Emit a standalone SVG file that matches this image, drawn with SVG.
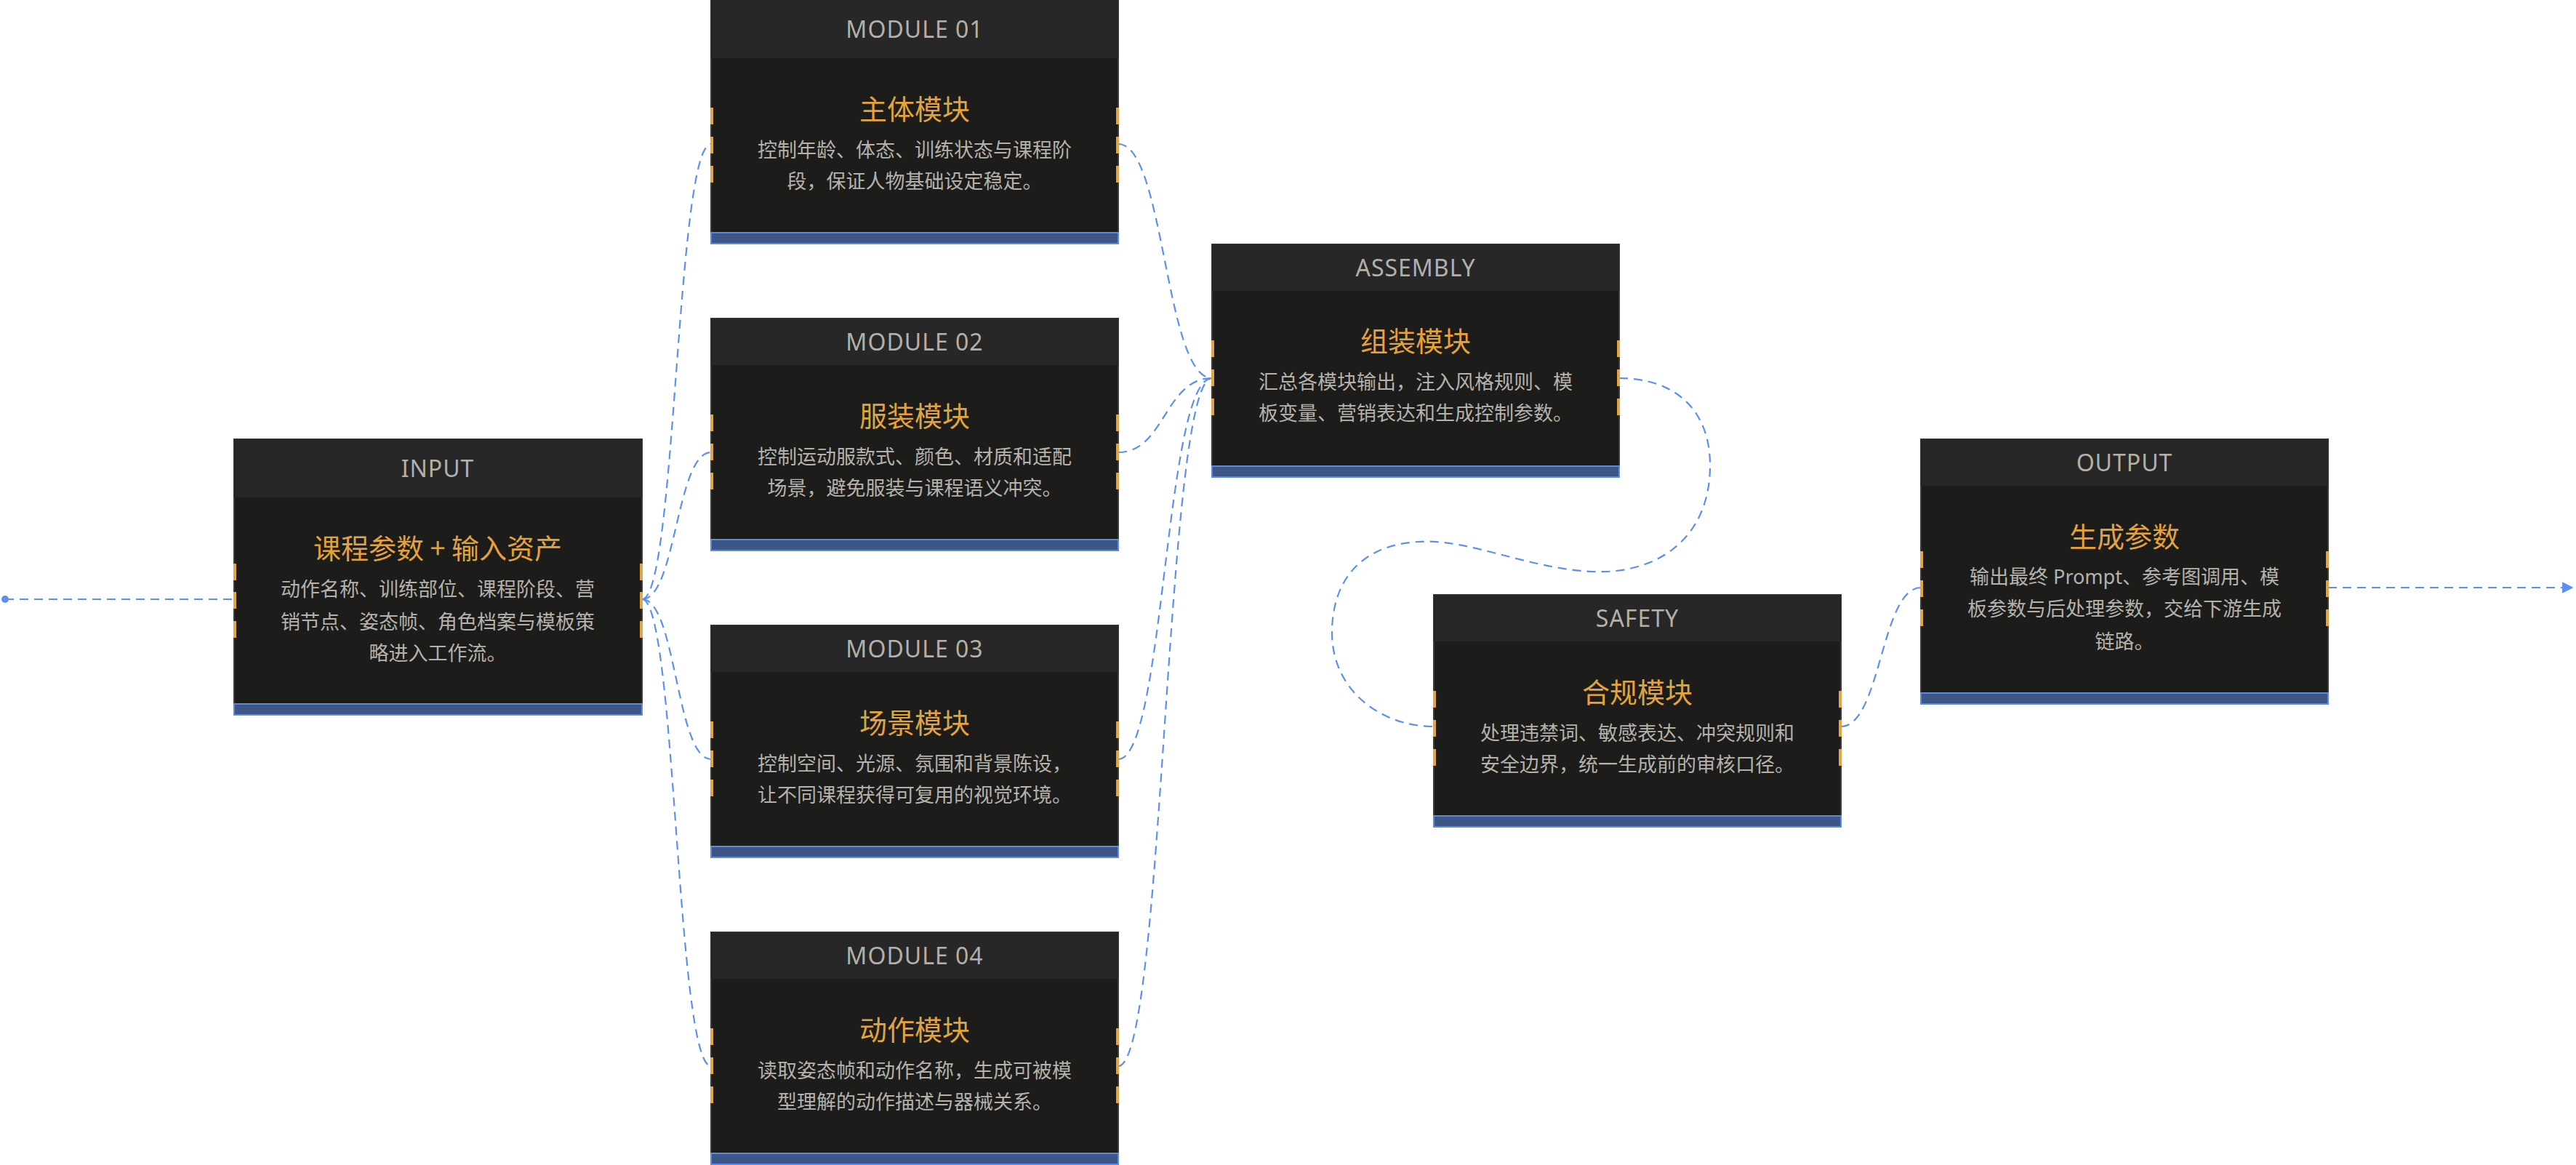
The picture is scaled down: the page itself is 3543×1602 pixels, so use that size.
<svg xmlns="http://www.w3.org/2000/svg" width="3543" height="1602" viewBox="0 0 3543 1602">
<style>
.body{fill:#1c1c1b;stroke:#3a3a3a;stroke-width:2}
.head{fill:#272727}
.band{fill:#3e5685;stroke:#5b8be0;stroke-width:2}
.tick{fill:#e2a445}
.ht{font-family:"Noto Sans","Noto Sans CJK SC",sans-serif;font-size:32px;fill:#b3b0a9;text-anchor:middle;letter-spacing:1px}
.tt{font-family:"Noto Sans CJK SC",sans-serif;font-size:38px;fill:#e3a33c;text-anchor:middle}
.dt{font-family:"Noto Sans","Noto Sans CJK SC",sans-serif;font-size:27px;fill:#b5b2ab;text-anchor:middle}
.cn{fill:none;stroke:#5b8ff0;stroke-width:2.2;stroke-dasharray:12 8}
</style>
<defs>
<marker id="arr" viewBox="0 0 10 10" refX="9" refY="5" markerWidth="7" markerHeight="7" orient="auto"><path d="M0,0 L10,5 L0,10 z" fill="#5b8ff0"/></marker>
</defs>
<rect width="3543" height="1602" fill="#ffffff"/>
<g id="connectors">
<circle cx="7" cy="824" r="5" fill="#5b8ff0"/>
<path class="cn" d="M7,824 L322,824"/>
<path class="cn" d="M883,824 C930,824 930,198 978,198"/>
<path class="cn" d="M883,824 C930,824 930,622 978,622"/>
<path class="cn" d="M883,824 C930,824 930,1044 978,1044"/>
<path class="cn" d="M883,824 C930,824 930,1466 978,1466"/>
<path class="cn" d="M1538,198 C1602,198 1602,520 1667,520"/>
<path class="cn" d="M1538,622 C1602,622 1602,520 1667,520"/>
<path class="cn" d="M1538,1044 C1602,1044 1602,520 1667,520"/>
<path class="cn" d="M1538,1466 C1602,1466 1602,520 1667,520"/>
<path class="cn" d="M2227,520 C2300,520 2352,560 2352,640 C2352,740 2280,790 2190,786 C2100,782 2020,740 1950,745 C1870,750 1832,800 1832,870 C1832,950 1900,999 1972,999"/>
<path class="cn" d="M2532,999 C2587,999 2587,808 2642,808"/>
<path class="cn" d="M3202,808 L3538,808" stroke-width="2.6" marker-end="url(#arr)"/>
</g>
<g id="input">
<rect class="body" x="322" y="604" width="561" height="379"/>
<rect class="head" x="322" y="604" width="561" height="80"/>
<rect class="band" x="322" y="968" width="561" height="15"/>
<rect class="tick" x="321" y="775" width="4" height="23"/><rect class="tick" x="321" y="814" width="4" height="23"/><rect class="tick" x="321" y="854" width="4" height="23"/>
<rect class="tick" x="880" y="775" width="4" height="23"/><rect class="tick" x="880" y="814" width="4" height="23"/><rect class="tick" x="880" y="854" width="4" height="23"/>
<text class="ht" x="602" y="656">INPUT</text>
<text class="tt" x="602" y="768">课程参数 + 输入资产</text>
<text class="dt" x="602" y="820">动作名称、训练部位、课程阶段、营</text>
<text class="dt" x="602" y="865">销节点、姿态帧、角色档案与模板策</text>
<text class="dt" x="602" y="908">略进入工作流。</text>
</g>
<g id="module01">
<rect class="body" x="978" y="0" width="560" height="335"/>
<rect class="head" x="978" y="0" width="560" height="80"/>
<rect class="band" x="978" y="320" width="560" height="15"/>
<rect class="tick" x="977" y="148" width="4" height="23"/><rect class="tick" x="977" y="188" width="4" height="23"/><rect class="tick" x="977" y="228" width="4" height="23"/>
<rect class="tick" x="1535" y="148" width="4" height="23"/><rect class="tick" x="1535" y="188" width="4" height="23"/><rect class="tick" x="1535" y="228" width="4" height="23"/>
<text class="ht" x="1258" y="52">MODULE 01</text>
<text class="tt" x="1258" y="164">主体模块</text>
<text class="dt" x="1258" y="216">控制年龄、体态、训练状态与课程阶</text>
<text class="dt" x="1258" y="259">段，保证人物基础设定稳定。</text>
</g>
<g id="module02">
<rect class="body" x="978" y="438" width="560" height="319"/>
<rect class="head" x="978" y="438" width="560" height="64"/>
<rect class="band" x="978" y="742" width="560" height="15"/>
<rect class="tick" x="977" y="570" width="4" height="23"/><rect class="tick" x="977" y="610" width="4" height="23"/><rect class="tick" x="977" y="650" width="4" height="23"/>
<rect class="tick" x="1535" y="570" width="4" height="23"/><rect class="tick" x="1535" y="610" width="4" height="23"/><rect class="tick" x="1535" y="650" width="4" height="23"/>
<text class="ht" x="1258" y="482">MODULE 02</text>
<text class="tt" x="1258" y="586">服装模块</text>
<text class="dt" x="1258" y="638">控制运动服款式、颜色、材质和适配</text>
<text class="dt" x="1258" y="681">场景，避免服装与课程语义冲突。</text>
</g>
<g id="module03">
<rect class="body" x="978" y="860" width="560" height="319"/>
<rect class="head" x="978" y="860" width="560" height="64"/>
<rect class="band" x="978" y="1164" width="560" height="15"/>
<rect class="tick" x="977" y="992" width="4" height="23"/><rect class="tick" x="977" y="1032" width="4" height="23"/><rect class="tick" x="977" y="1072" width="4" height="23"/>
<rect class="tick" x="1535" y="992" width="4" height="23"/><rect class="tick" x="1535" y="1032" width="4" height="23"/><rect class="tick" x="1535" y="1072" width="4" height="23"/>
<text class="ht" x="1258" y="904">MODULE 03</text>
<text class="tt" x="1258" y="1008">场景模块</text>
<text class="dt" x="1258" y="1060">控制空间、光源、氛围和背景陈设，</text>
<text class="dt" x="1258" y="1103">让不同课程获得可复用的视觉环境。</text>
</g>
<g id="module04">
<rect class="body" x="978" y="1282" width="560" height="319"/>
<rect class="head" x="978" y="1282" width="560" height="64"/>
<rect class="band" x="978" y="1586" width="560" height="15"/>
<rect class="tick" x="977" y="1414" width="4" height="23"/><rect class="tick" x="977" y="1454" width="4" height="23"/><rect class="tick" x="977" y="1494" width="4" height="23"/>
<rect class="tick" x="1535" y="1414" width="4" height="23"/><rect class="tick" x="1535" y="1454" width="4" height="23"/><rect class="tick" x="1535" y="1494" width="4" height="23"/>
<text class="ht" x="1258" y="1326">MODULE 04</text>
<text class="tt" x="1258" y="1430">动作模块</text>
<text class="dt" x="1258" y="1482">读取姿态帧和动作名称，生成可被模</text>
<text class="dt" x="1258" y="1525">型理解的动作描述与器械关系。</text>
</g>
<g id="assembly">
<rect class="body" x="1667" y="336" width="560" height="320"/>
<rect class="head" x="1667" y="336" width="560" height="64"/>
<rect class="band" x="1667" y="641" width="560" height="15"/>
<rect class="tick" x="1666" y="468" width="4" height="23"/><rect class="tick" x="1666" y="508" width="4" height="23"/><rect class="tick" x="1666" y="548" width="4" height="23"/>
<rect class="tick" x="2224" y="468" width="4" height="23"/><rect class="tick" x="2224" y="508" width="4" height="23"/><rect class="tick" x="2224" y="548" width="4" height="23"/>
<text class="ht" x="1947" y="380">ASSEMBLY</text>
<text class="tt" x="1947" y="483">组装模块</text>
<text class="dt" x="1947" y="535">汇总各模块输出，注入风格规则、模</text>
<text class="dt" x="1947" y="578">板变量、营销表达和生成控制参数。</text>
</g>
<g id="safety">
<rect class="body" x="1972" y="818" width="560" height="319"/>
<rect class="head" x="1972" y="818" width="560" height="64"/>
<rect class="band" x="1972" y="1122" width="560" height="15"/>
<rect class="tick" x="1971" y="950" width="4" height="23"/><rect class="tick" x="1971" y="990" width="4" height="23"/><rect class="tick" x="1971" y="1030" width="4" height="23"/>
<rect class="tick" x="2529" y="950" width="4" height="23"/><rect class="tick" x="2529" y="990" width="4" height="23"/><rect class="tick" x="2529" y="1030" width="4" height="23"/>
<text class="ht" x="2252" y="862">SAFETY</text>
<text class="tt" x="2252" y="966">合规模块</text>
<text class="dt" x="2252" y="1018">处理违禁词、敏感表达、冲突规则和</text>
<text class="dt" x="2252" y="1061">安全边界，统一生成前的审核口径。</text>
</g>
<g id="output">
<rect class="body" x="2642" y="604" width="560" height="364"/>
<rect class="head" x="2642" y="604" width="560" height="64"/>
<rect class="band" x="2642" y="953" width="560" height="15"/>
<rect class="tick" x="2641" y="758" width="4" height="23"/><rect class="tick" x="2641" y="798" width="4" height="23"/><rect class="tick" x="2641" y="838" width="4" height="23"/>
<rect class="tick" x="3199" y="758" width="4" height="23"/><rect class="tick" x="3199" y="798" width="4" height="23"/><rect class="tick" x="3199" y="838" width="4" height="23"/>
<text class="ht" x="2922" y="648">OUTPUT</text>
<text class="tt" x="2922" y="752">生成参数</text>
<text class="dt" x="2922" y="803">输出最终 Prompt、参考图调用、模</text>
<text class="dt" x="2922" y="847">板参数与后处理参数，交给下游生成</text>
<text class="dt" x="2922" y="892">链路。</text>
</g>
</svg>
